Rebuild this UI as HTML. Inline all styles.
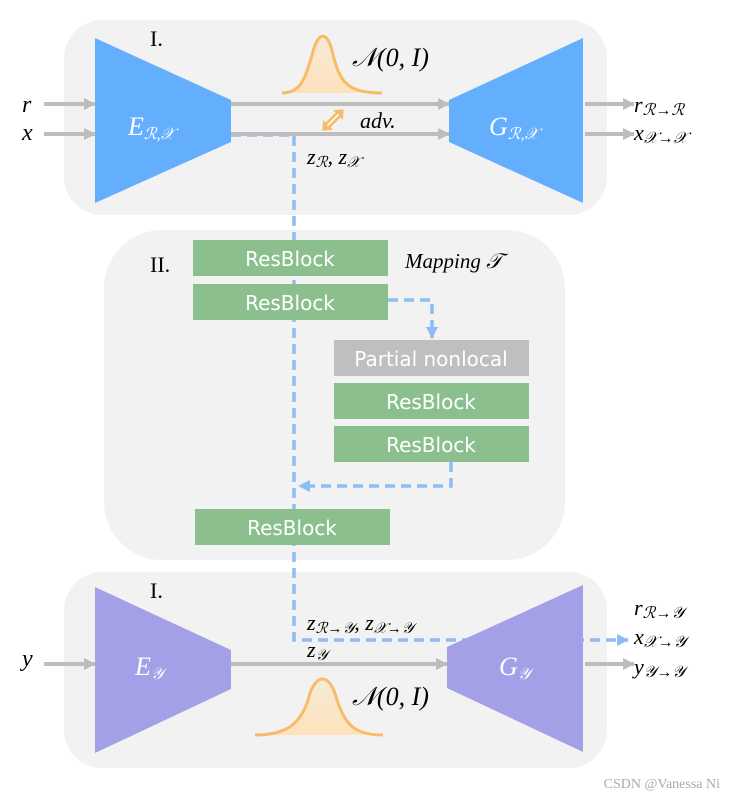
<!DOCTYPE html>
<html><head><meta charset="utf-8"><style>
body{margin:0;background:#fff}
svg text{font-family:"Liberation Serif",serif}
.m{font-style:italic}
.rb{font-family:"DejaVu Sans","Liberation Sans",sans-serif;fill:#fff;font-size:20px}
</style></head><body>
<svg width="734" height="798" xmlns="http://www.w3.org/2000/svg">
<defs>
<marker id="ga" markerWidth="12" markerHeight="12" refX="11" refY="6" orient="auto" markerUnits="userSpaceOnUse"><path d="M0,0 L12,6 L0,12z" fill="#bdbdbd"/></marker>
<marker id="ba" markerWidth="12" markerHeight="12" refX="11" refY="6" orient="auto" markerUnits="userSpaceOnUse"><path d="M0,0 L12,6 L0,12z" fill="#8ebdf5"/></marker>
<linearGradient id="gf" x1="0" y1="0" x2="0" y2="1"><stop offset="0" stop-color="#fde2bd" stop-opacity=".5"/><stop offset="1" stop-color="#fde2bd"/></linearGradient>
</defs>
<rect x="64" y="20" width="543" height="195" rx="38" fill="#f2f2f2"/>
<rect x="104" y="230" width="461" height="330" rx="58" fill="#f2f2f2"/>
<rect x="64" y="572" width="543" height="196" rx="38" fill="#f2f2f2"/>
<g fill="none" stroke="#8ebdf5" stroke-width="3.5" stroke-dasharray="10,6">
<path d="M231,135 H294 V640 H628" marker-end="url(#ba)"/>
<path d="M388,300 H432 V338" marker-end="url(#ba)"/>
<path d="M451,462 V486 H299" marker-end="url(#ba)"/>
</g>
<!-- top -->
<polygon points="95,38 231,100 231,142 95,203" fill="#64aefe"/>
<polygon points="449,100 583,38 583,203 449,142" fill="#64aefe"/>
<g stroke="#bdbdbd" stroke-width="4" marker-end="url(#ga)">
<line x1="44" y1="104" x2="95" y2="104"/><line x1="44" y1="134" x2="95" y2="134"/>
<line x1="231" y1="104" x2="449" y2="104"/><line x1="231" y1="134" x2="449" y2="134"/>
<line x1="585" y1="104" x2="634" y2="104"/><line x1="585" y1="134" x2="634" y2="134"/>
<line x1="44" y1="664" x2="95" y2="664"/><line x1="231" y1="664" x2="447" y2="664"/><line x1="585" y1="664" x2="634" y2="664"/>
</g>
<path d="M282,93 C300,93 305,80 312,55 C318,30 328,30 333,55 C340,80 345,93 382,93Z" fill="url(#gf)"/>
<path d="M282,93 C300,93 305,80 312,55 C318,30 328,30 333,55 C340,80 345,93 382,93" fill="none" stroke="#f8bb68" stroke-width="3"/>
<g transform="translate(333,120) rotate(-45)">
<path d="M-15,0 L-7,-7 L-7,-3.5 L7,-3.5 L7,-7 L15,0 L7,7 L7,3.5 L-7,3.5 L-7,7Z" fill="#f8bb68"/>
<line x1="-8" y1="0" x2="8" y2="0" stroke="#fff" stroke-width="1.6"/>
</g>
<text x="150" y="46" font-size="22">I.</text>
<text x="352" y="66" font-size="26" class="m">𝒩(0, <tspan>I</tspan>)</text>
<text x="128" y="135" font-size="26" fill="#fff" class="m">E<tspan font-size="16" dy="4">ℛ,𝒳</tspan></text>
<text x="489" y="135" font-size="26" fill="#fff" class="m">G<tspan font-size="16" dy="4">ℛ,𝒳</tspan></text>
<text x="360" y="128" font-size="22" class="m">adv.</text>
<text x="307" y="164" font-size="22" class="m">z<tspan font-size="15" dy="3">ℛ</tspan><tspan dy="-3">, z</tspan><tspan font-size="15" dy="3">𝒳</tspan></text>
<text x="22" y="112" font-size="24" class="m">r</text>
<text x="22" y="140" font-size="24" class="m">x</text>
<text x="634" y="112" font-size="22" class="m">r<tspan font-size="16" dy="3">ℛ→ℛ</tspan></text>
<text x="634" y="140" font-size="22" class="m">x<tspan font-size="16" dy="3">𝒳→𝒳</tspan></text>
<!-- middle -->
<g fill="#8bc08e">
<rect x="193" y="240" width="195" height="36"/><rect x="193" y="284" width="195" height="36"/>
<rect x="334" y="383" width="195" height="36"/><rect x="334" y="426" width="195" height="36"/>
<rect x="195" y="509" width="195" height="36"/></g>
<rect x="334" y="340" width="195" height="36" fill="#bfbfbf"/>
<text class="rb" x="290" y="266" text-anchor="middle">ResBlock</text>
<text class="rb" x="290" y="310" text-anchor="middle">ResBlock</text>
<text class="rb" x="431" y="366" text-anchor="middle">Partial nonlocal</text>
<text class="rb" x="431" y="409" text-anchor="middle">ResBlock</text>
<text class="rb" x="431" y="452" text-anchor="middle">ResBlock</text>
<text class="rb" x="292" y="535" text-anchor="middle">ResBlock</text>
<text x="150" y="272" font-size="22">II.</text>
<text x="405" y="268" font-size="21" font-style="italic" font-family="DejaVu Sans,sans-serif">Mapping <tspan font-family="Liberation Serif,serif">𝒯</tspan></text>
<!-- bottom -->
<polygon points="95,587 231,650 231,689 95,753" fill="#a3a0e8"/>
<polygon points="447,647 583,585 583,752 447,688" fill="#a3a0e8"/>
<path d="M255,735 C285,735 300,725 308,700 C315,672 330,672 337,700 C345,725 355,735 383,735Z" fill="url(#gf)"/>
<path d="M255,735 C285,735 300,725 308,700 C315,672 330,672 337,700 C345,725 355,735 383,735" fill="none" stroke="#f8bb68" stroke-width="3"/>
<text x="150" y="598" font-size="22">I.</text>
<text x="352" y="705" font-size="26" class="m">𝒩(0, I)</text>
<text x="135" y="675" font-size="26" fill="#fff" class="m">E<tspan font-size="16" dy="4">𝒴</tspan></text>
<text x="499" y="675" font-size="26" fill="#fff" class="m">G<tspan font-size="16" dy="4">𝒴</tspan></text>
<text x="307" y="630" font-size="22" class="m">z<tspan font-size="15" dy="3">ℛ→𝒴</tspan><tspan dy="-3">, z</tspan><tspan font-size="15" dy="3">𝒳→𝒴</tspan></text>
<text x="307" y="657" font-size="22" class="m">z<tspan font-size="15" dy="3">𝒴</tspan></text>
<text x="22" y="666" font-size="24" class="m">y</text>
<text x="634" y="615" font-size="22" class="m">r<tspan font-size="16" dy="3">ℛ→𝒴</tspan></text>
<text x="634" y="644" font-size="22" class="m">x<tspan font-size="16" dy="3">𝒳→𝒴</tspan></text>
<text x="634" y="674" font-size="22" class="m">y<tspan font-size="16" dy="3">𝒴→𝒴</tspan></text>
<text x="720" y="788" font-size="14" fill="#aaa" text-anchor="end" font-family="Liberation Sans,sans-serif">CSDN @Vanessa Ni</text>
</svg>
</body></html>
